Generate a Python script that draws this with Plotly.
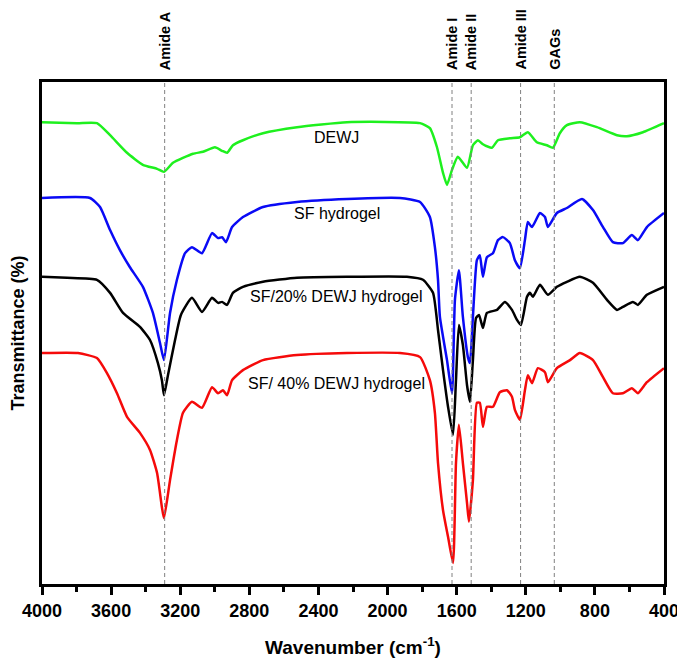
import plotly.graph_objects as go

# FTIR spectra, transmittance (arb. %), offset stacked
dewj_wn = [4000, 3797, 3682, 3606, 3508, 3416, 3334, 3294, 3242, 3126, 3068, 2999, 2958, 2929,
           2895, 2837, 2721, 2524, 2235, 1812, 1755, 1714, 1679, 1656, 1627, 1593, 1540, 1506,
           1477, 1448, 1396, 1361, 1292, 1234, 1188, 1136, 1078, 1043, 1003, 962, 887, 788,
           672, 615, 522, 400]
dewj_t = [92.0, 91.8, 91.8, 89.4, 85.9, 83.5, 82.7, 82.1, 83.9, 85.7, 86.1, 87.0, 86.3, 85.9,
          87.4, 88.4, 89.8, 91.0, 92.0, 91.8, 90.8, 87.0, 81.9, 79.5, 82.5, 85.1, 82.9, 87.4,
          88.4, 87.6, 86.9, 88.4, 88.8, 89.0, 90.0, 88.0, 87.4, 86.9, 89.8, 91.4, 92.0, 91.0,
          89.4, 89.2, 90.0, 91.8]

sf_wn = [4000, 3722, 3664, 3606, 3549, 3491, 3416, 3358, 3317, 3294, 3259, 3219, 3172, 3132,
         3074, 3016, 2981, 2958, 2935, 2900, 2837, 2721, 2524, 2235, 1928, 1812, 1755, 1726,
         1708, 1697, 1656, 1627, 1610, 1587, 1564, 1535, 1523, 1506, 1483, 1466, 1448, 1425,
         1390, 1361, 1332, 1292, 1263, 1234, 1205, 1188, 1164, 1118, 1089, 1072, 1020, 962,
         875, 811, 753, 696, 638, 586, 551, 499, 400]
sf_t = [76.9, 76.9, 75.1, 70.5, 66.5, 63.1, 59.2, 54.0, 48.0, 44.6, 54.0, 60.6, 65.9, 67.1,
        65.9, 69.9, 68.9, 69.1, 68.1, 71.1, 73.1, 75.1, 76.1, 76.7, 76.9, 76.1, 73.1, 67.1,
        60.6, 53.2, 44.6, 38.0, 56.6, 62.5, 53.2, 45.2, 44.0, 53.2, 64.5, 65.5, 61.2, 65.1,
        65.9, 68.5, 69.1, 67.9, 64.5, 62.9, 68.5, 72.1, 71.1, 73.9, 73.1, 71.1, 73.9, 74.9,
        76.7, 74.5, 71.1, 68.1, 67.9, 69.5, 68.5, 71.1, 73.9]

sf20_wn = [4000, 3855, 3682, 3606, 3531, 3433, 3375, 3329, 3306, 3294, 3271, 3230, 3196, 3132,
           3074, 3016, 2981, 2958, 2929, 2895, 2837, 2721, 2524, 2235, 1888, 1795, 1737, 1708,
           1679, 1650, 1621, 1604, 1587, 1564, 1540, 1523, 1506, 1488, 1471, 1448, 1425, 1367,
           1321, 1280, 1251, 1228, 1193, 1176, 1159, 1118, 1072, 1020, 962, 887, 811, 730,
           672, 638, 580, 551, 499, 400]
sf20_t = [61.2, 61.0, 60.6, 58.0, 54.0, 51.2, 48.6, 44.0, 40.6, 37.6, 41.6, 48.6, 53.6, 57.0,
          54.2, 57.0, 56.0, 56.2, 55.6, 58.0, 59.2, 60.2, 61.0, 61.2, 61.2, 60.6, 58.0, 50.6,
          42.6, 35.3, 29.7, 40.6, 51.6, 47.6, 39.6, 36.3, 44.6, 53.0, 53.6, 51.0, 54.0, 54.6,
          56.2, 54.6, 52.6, 51.6, 57.2, 58.0, 57.2, 59.6, 57.6, 59.2, 60.2, 61.2, 60.0, 56.6,
          54.6, 55.2, 56.2, 55.6, 57.6, 59.2]

sf40_wn = [4000, 3792, 3682, 3624, 3566, 3508, 3433, 3375, 3334, 3306, 3294, 3259, 3219, 3184,
           3132, 3074, 3016, 2981, 2953, 2929, 2900, 2837, 2721, 2524, 2235, 1928, 1812, 1755,
           1726, 1708, 1679, 1650, 1621, 1604, 1587, 1564, 1540, 1529, 1506, 1483, 1466, 1448,
           1425, 1390, 1350, 1309, 1280, 1263, 1234, 1205, 1188, 1164, 1130, 1089, 1072, 1020,
           944, 887, 811, 753, 696, 638, 586, 551, 499, 400]
sf40_t = [46.0, 46.0, 45.0, 42.0, 38.0, 33.3, 30.1, 26.7, 22.1, 15.3, 13.1, 20.7, 28.7, 34.1,
          36.3, 35.1, 39.2, 38.0, 38.6, 37.6, 40.6, 42.6, 44.6, 45.6, 46.0, 46.0, 45.2, 40.6,
          34.1, 24.1, 14.7, 9.4, 4.2, 24.1, 31.7, 24.1, 16.1, 12.4, 20.7, 36.1, 36.1, 31.3,
          35.3, 35.3, 38.2, 38.6, 37.3, 34.7, 32.7, 38.6, 41.6, 40.0, 43.0, 42.2, 40.2, 43.0,
          44.6, 46.0, 44.6, 41.2, 38.0, 38.0, 39.0, 38.0, 40.2, 43.0]

series_names = ["DEWJ", "SF hydrogel", "SF/20% DEWJ hydrogel", "SF/ 40% DEWJ hydrogel"]
series_colors = ["#1EF01E", "#0A0AF5", "#000000", "#F50A0A"]
label_y = [89.0, 73.9, 57.2, 40.0]
label_x = 2293

band_names = ["Amide A", "Amide I", "Amide II", "Amide III", "GAGs"]
band_wn = [3290, 1627, 1516, 1230, 1035]

fig = go.Figure()
for name, wn, t, col in zip(series_names,
                            [dewj_wn, sf_wn, sf20_wn, sf40_wn],
                            [dewj_t, sf_t, sf20_t, sf40_t],
                            series_colors):
    fig.add_trace(go.Scatter(x=wn, y=t, mode="lines", name=name,
                             line=dict(color=col, width=2.5, shape="spline", smoothing=0.5)))

for name, ly in zip(series_names, label_y):
    fig.add_annotation(x=label_x, y=ly, text=name, showarrow=False,
                       font=dict(family="Liberation Sans, Arial", size=16, color="black"))

for name, wn in zip(band_names, band_wn):
    fig.add_shape(type="line", x0=wn, x1=wn, y0=0, y1=1, yref="paper",
                  line=dict(color="#808080", width=1, dash="4px,3px"))
    fig.add_annotation(x=wn, y=1, yref="paper", text=name, showarrow=False,
                       textangle=-90, yanchor="bottom", yshift=10,
                       font=dict(family="Liberation Sans, Arial", size=14.5,
                                 color="black", weight="bold"))

bold = dict(family="Liberation Sans, Arial", color="black", weight="bold")

fig.update_xaxes(range=[4000, 400], tick0=400, dtick=400,
                 ticks="outside", ticklen=8, tickwidth=2.5, tickcolor="black",
                 minor=dict(dtick=200, ticks="outside", ticklen=5, tickwidth=2.5, tickcolor="black"),
                 showline=True, linewidth=3, linecolor="black", mirror=True,
                 showgrid=False, zeroline=False,
                 tickfont=dict(size=18, **bold),
                 title=dict(text="Wavenumber (cm<sup>-1</sup>)", font=dict(size=19, **bold), standoff=22))
fig.update_yaxes(range=[0, 100], showticklabels=False, ticks="",
                 showline=True, linewidth=3, linecolor="black", mirror=True,
                 showgrid=False, zeroline=False,
                 title=dict(text="Transmittance (%)", font=dict(size=18, **bold), standoff=14))

# page body has an 8px default margin, so the figure is 8px smaller than the window
fig.update_layout(width=677, height=662, showlegend=False,
                  margin=dict(l=34, r=21, t=74, b=86, autoexpand=False),
                  plot_bgcolor="white", paper_bgcolor="white")

fig.write_html("out.html")
